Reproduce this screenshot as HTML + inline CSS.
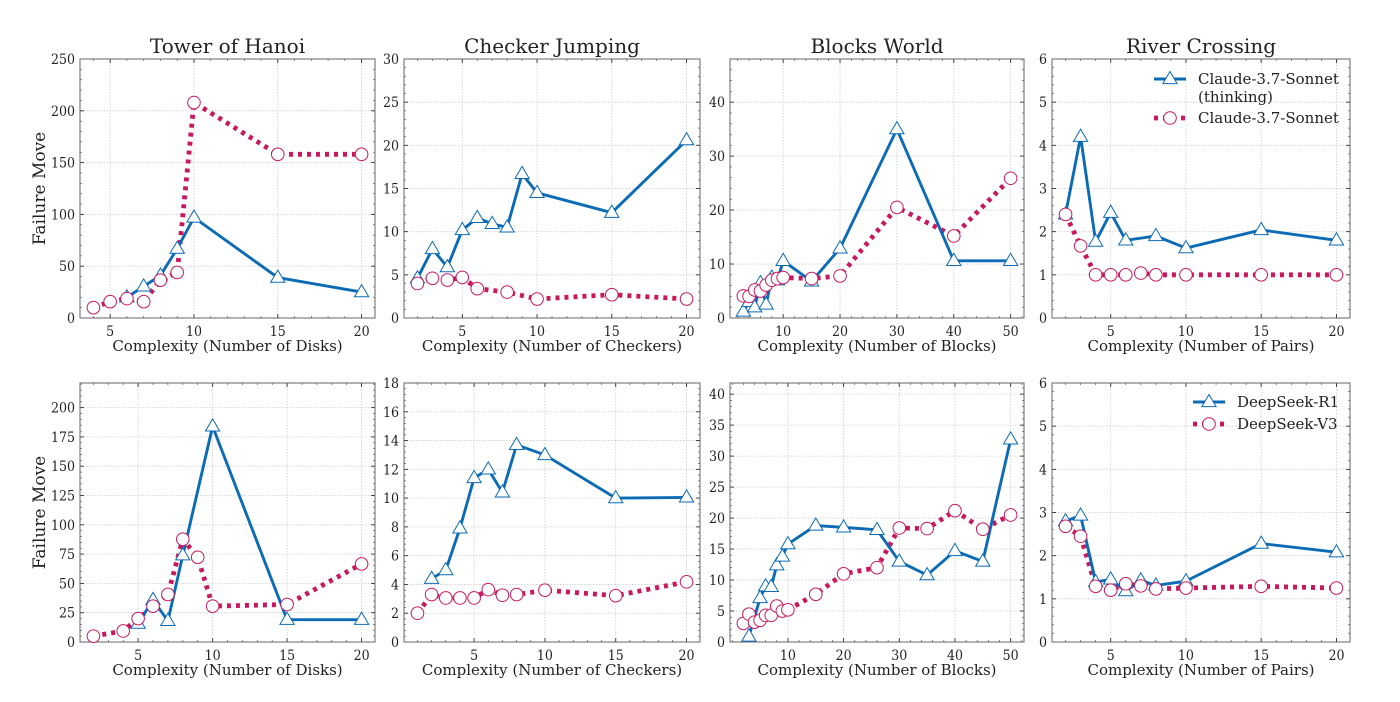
<!DOCTYPE html>
<html><head><meta charset="utf-8">
<style>
html,body{margin:0;padding:0;background:#fff;}
svg{display:block;}
text{font-family:"DejaVu Serif","Liberation Serif",serif;fill:#222;}
text.tk{font-family:"DejaVu Serif Condensed","DejaVu Serif","Liberation Serif",serif;}
</style></head>
<body>
<svg id="fig" width="1400" height="702" viewBox="0 0 1400 702" xmlns="http://www.w3.org/2000/svg"></svg>
<script>
// ---------- DATA ----------
const hanoiTopBlueX=[6,7,8,9,10,15,20];
const hanoiTopBlueY=[20,30.5,41,67,97,39,25];
const hanoiTopRedX=[4,5,6,7,8,9,10,15,20];
const hanoiTopRedY=[10,15.8,18.7,15.8,36.5,44,208,158,158];
const checkTopBlueX=[2,3,4,5,6,7,8,9,10,15,20];
const checkTopBlueY=[4.6,8.0,5.9,10.2,11.6,10.9,10.5,16.7,14.5,12.2,20.6];
const checkTopRedX=[2,3,4,5,6,8,10,15,20];
const checkTopRedY=[4.0,4.6,4.4,4.7,3.4,3.0,2.2,2.7,2.2];
const blocksTopBlueX=[3,4,5,6,7,8,9,10,15,20,30,40,50];
const blocksTopBlueY=[1.2,3,2,6.5,2.5,7.5,7,10.6,6.8,12.9,35,10.6,10.6];
const blocksTopRedX=[3,4,5,6,7,8,9,10,15,20,30,40,50];
const blocksTopRedY=[4.1,4,5.2,5,6.1,7,7.3,7.5,7.3,7.8,20.5,15.2,25.9];
const riverTopBlueX=[2,3,4,5,6,8,10,15,20];
const riverTopBlueY=[2.4,4.2,1.77,2.44,1.8,1.9,1.62,2.04,1.8];
const riverTopRedX=[2,3,4,5,6,7,8,10,15,20];
const riverTopRedY=[2.4,1.67,1.0,1.0,1.0,1.04,1.0,1.0,1.0,1.0];

const hanoiBotBlueX=[5,6,7,8,10,15,20];
const hanoiBotBlueY=[15.7,36,18,74,184,19,19];
const hanoiBotRedX=[2,4,5,6,7,8,9,10,15,20];
const hanoiBotRedY=[5,9.4,20,30.6,40.6,87.7,72.3,30.6,32,66.6];
const checkBotBlueX=[2,3,4,5,6,7,8,10,15,20];
const checkBotBlueY=[4.4,5.0,7.9,11.4,12.0,10.4,13.7,13.0,10.0,10.05];
const checkBotRedX=[1,2,3,4,5,6,7,8,10,15,20];
const checkBotRedY=[2.0,3.3,3.06,3.06,3.06,3.64,3.25,3.3,3.6,3.22,4.18];
const blocksBotBlueX=[3,5,6,7,8,9,10,15,20,26,30,35,40,45,50];
const blocksBotBlueY=[0.9,7.1,9.0,8.9,12.4,13.8,15.8,18.8,18.5,18.1,13.0,10.8,14.7,13.0,32.7];
const blocksBotRedX=[2,3,4,5,6,7,8,9,10,15,20,26,30,35,40,45,50];
const blocksBotRedY=[3.0,4.5,3.2,3.5,4.3,4.3,5.8,5.0,5.2,7.7,11.0,12.0,18.4,18.3,21.2,18.2,20.5];
const riverBotBlueX=[2,3,4,5,6,7,8,10,15,20];
const riverBotBlueY=[2.8,2.93,1.39,1.45,1.18,1.43,1.31,1.41,2.28,2.08];
const riverBotRedX=[2,3,4,5,6,7,8,10,15,20];
const riverBotRedY=[2.68,2.45,1.29,1.2,1.35,1.3,1.23,1.25,1.29,1.25];

const titles=["Tower of Hanoi","Checker Jumping","Blocks World","River Crossing"];
const xlabels=["Complexity (Number of Disks)","Complexity (Number of Checkers)","Complexity (Number of Blocks)","Complexity (Number of Pairs)"];
const topYTicks=[[0,50,100,150,200,250],[0,5,10,15,20,25,30],[0,10,20,30,40],[0,1,2,3,4,5,6]];
const botYTicks=[[0,25,50,75,100,125,150,175,200],[0,2,4,6,8,10,12,14,16,18],[0,5,10,15,20,25,30,35,40],[0,1,2,3,4,5,6]];
const topYMax=[250,30,48,6];
const botYMax=[221,18,41.8,6];
const xTicks=[[5,10,15,20],[5,10,15,20],[10,20,30,40,50],[5,10,15,20]];
const topLegend=["Claude-3.7-Sonnet","(thinking)","Claude-3.7-Sonnet"];
const botLegend=["DeepSeek-R1","DeepSeek-V3"];

// ---------- LAYOUT ----------
const NS="http://www.w3.org/2000/svg";
const svg=document.getElementById('fig');
const colL=[80,404,730,1052], colR=[375,700,1024,1350];
const rowT=[59,383], rowB=[318,642];
const BLUE="#0c6bb5", RED="#c8185e";
function mk(tag,attrs,parent){const e=document.createElementNS(NS,tag);for(const k in attrs)e.setAttribute(k,attrs[k]);(parent||svg).appendChild(e);return e;}

const panels=[
 [hanoiTopBlueX,hanoiTopBlueY,hanoiTopRedX,hanoiTopRedY],
 [checkTopBlueX,checkTopBlueY,checkTopRedX,checkTopRedY],
 [blocksTopBlueX,blocksTopBlueY,blocksTopRedX,blocksTopRedY],
 [riverTopBlueX,riverTopBlueY,riverTopRedX,riverTopRedY],
 [hanoiBotBlueX,hanoiBotBlueY,hanoiBotRedX,hanoiBotRedY],
 [checkBotBlueX,checkBotBlueY,checkBotRedX,checkBotRedY],
 [blocksBotBlueX,blocksBotBlueY,blocksBotRedX,blocksBotRedY],
 [riverBotBlueX,riverBotBlueY,riverBotRedX,riverBotRedY]];

function triPath(x,y,s){return `M${x},${y-s} L${x+s*0.95},${y+s*0.62} L${x-s*0.95},${y+s*0.62} Z`;}

panels.forEach((p,i)=>{
  const row=i<4?0:1, col=i%4;
  const L=colL[col],R=colR[col],T=rowT[row],B=rowB[row];
  const allX=p[0].concat(p[2]);
  const xmin=Math.min(...allX),xmax=Math.max(...allX),m=(xmax-xmin)*0.05;
  const x0=xmin-m,x1=xmax+m;
  const ymax=row===0?topYMax[col]:botYMax[col];
  const sx=v=>L+(v-x0)/(x1-x0)*(R-L);
  const sy=v=>B-v/ymax*(B-T);
  const g=mk('g',{});
  
  
  const yt=row===0?topYTicks[col]:botYTicks[col];
  yt.forEach(v=>{const yy=sy(v);if(yy<T-0.5)return;
    const l=mk('line',{x1:L,x2:R,y1:yy,y2:yy,stroke:'#ccc','stroke-width':0.8,'stroke-dasharray':'1.5,1.5'},g);
    });
  xTicks[col].forEach(v=>{const xx=sx(v);
    const l=mk('line',{x1:xx,x2:xx,y1:T,y2:B,stroke:'#ccc','stroke-width':0.8,'stroke-dasharray':'1.5,1.5'},g);
    });
  const xstep=(xTicks[col][1]-xTicks[col][0])/5;
  for(let v=Math.ceil(x0/xstep)*xstep;v<=x1;v+=xstep){const xx=sx(v);
    mk('line',{x1:xx,x2:xx,y1:B,y2:B-2,stroke:'#555','stroke-width':0.7},g);
    mk('line',{x1:xx,x2:xx,y1:T,y2:T+2,stroke:'#555','stroke-width':0.7},g);}
  const ystep=(yt[1]-yt[0])/5;
  for(let v=0;v<=ymax;v+=ystep){const yy=sy(v);
    mk('line',{x1:L,x2:L+2,y1:yy,y2:yy,stroke:'#555','stroke-width':0.7},g);
    mk('line',{x1:R,x2:R-2,y1:yy,y2:yy,stroke:'#555','stroke-width':0.7},g);}
  yt.forEach(v=>{const yy=sy(v);
    mk('line',{x1:L,x2:L+4,y1:yy,y2:yy,stroke:'#333','stroke-width':0.9},g);
    mk('line',{x1:R,x2:R-4,y1:yy,y2:yy,stroke:'#333','stroke-width':0.9},g);
    const t=mk('text',{x:L-5,y:yy+5,'text-anchor':'end','font-size':14,'class':'tk'},g);t.textContent=v;
    });
  xTicks[col].forEach(v=>{const xx=sx(v);
    mk('line',{x1:xx,x2:xx,y1:B,y2:B-4,stroke:'#333','stroke-width':0.9},g);
    mk('line',{x1:xx,x2:xx,y1:T,y2:T+4,stroke:'#333','stroke-width':0.9},g);
    const t=mk('text',{x:xx,y:B+18,'text-anchor':'middle','font-size':14,'class':'tk'},g);t.textContent=v;
    });
  const fr=mk('rect',{x:L,y:T,width:R-L,height:B-T,fill:'none',stroke:'#666','stroke-width':1},g);
  
  const redPts=p[2].map((v,k)=>sx(v)+','+sy(p[3][k])).join(' ');
  const rl=mk('polyline',{points:redPts,fill:'none',stroke:RED,'stroke-width':4.8,'stroke-dasharray':'4,5'},g);
  
  const bluePts=p[0].map((v,k)=>sx(v)+','+sy(p[1][k])).join(' ');
  const bl=mk('polyline',{points:bluePts,fill:'none',stroke:BLUE,'stroke-width':2.9,'stroke-linejoin':'round'},g);
  
  p[0].forEach((v,k)=>{const m=mk('path',{d:triPath(sx(v),sy(p[1][k]),7.5),fill:'#fff',stroke:BLUE,'stroke-width':1},g);
    });
  p[2].forEach((v,k)=>{const m=mk('circle',{cx:sx(v),cy:sy(p[3][k]),r:6.3,fill:'#fff',stroke:RED,'stroke-width':1},g);
    });
  const xl=mk('text',{x:(L+R)/2,y:B+33,'text-anchor':'middle','font-size':15},g);xl.textContent=xlabels[col];
  
  if(row===0){const tt=mk('text',{x:(L+R)/2,y:53,'text-anchor':'middle','font-size':20},g);tt.textContent=titles[col];
    }
  if(col===0){const cy=(T+B)/2;const yl=mk('text',{x:45,y:cy,'text-anchor':'middle','font-size':17,transform:`rotate(-90 45 ${cy})`},g);
    yl.textContent='Failure Move';}
});

function legend(x,y,kind,lines){
  const g=mk('g',{});
  
  
  if(kind==='blue'){mk('line',{x1:x,x2:x+32,y1:y,y2:y,stroke:BLUE,'stroke-width':2.9},g);
    mk('path',{d:triPath(x+16,y,7.5),fill:'#fff',stroke:BLUE,'stroke-width':1},g);}
  else{mk('line',{x1:x,x2:x+32,y1:y,y2:y,stroke:RED,'stroke-width':4.8,'stroke-dasharray':'4,5'},g);
    mk('circle',{cx:x+16,cy:y,r:6.3,fill:'#fff',stroke:RED,'stroke-width':1},g);}
  lines.forEach((s,k)=>{const t=mk('text',{x:x+44,y:y+5+k*18,'font-size':15},g);t.textContent=s;});
}
legend(1154,79,"blue",[topLegend[0],topLegend[1]]);
legend(1154,118,"red",[topLegend[2]]);
legend(1193,402,"blue",[botLegend[0]]);
legend(1193,424,"red",[botLegend[1]]);
</script>
</body></html>
